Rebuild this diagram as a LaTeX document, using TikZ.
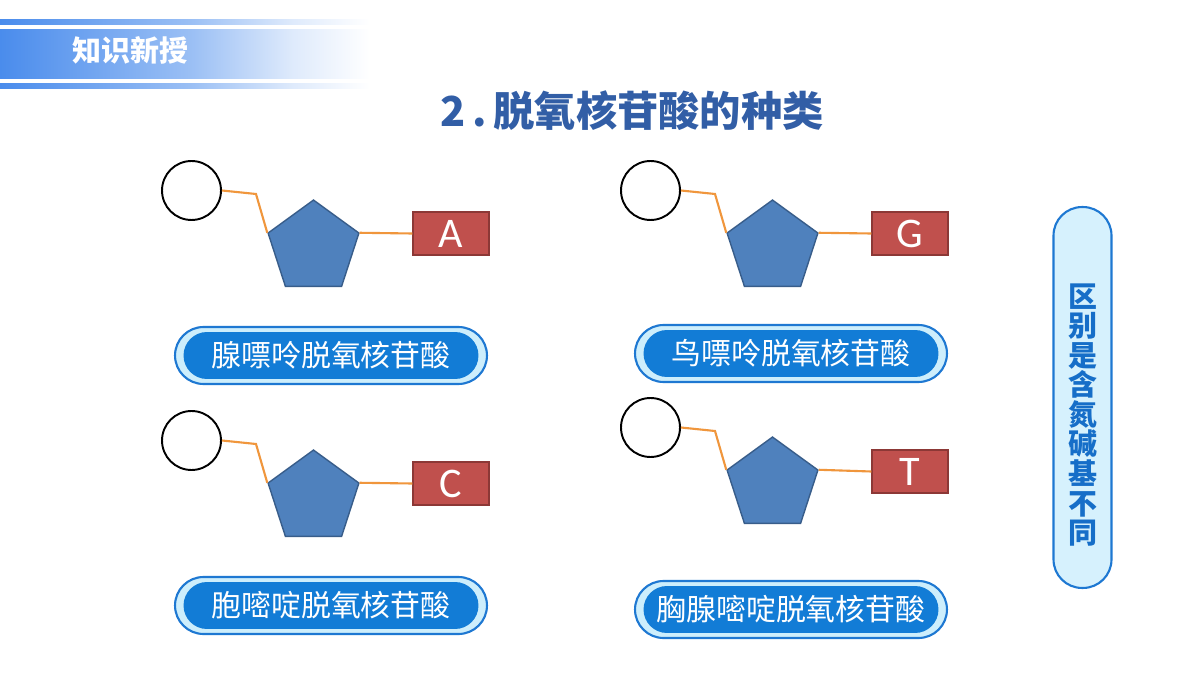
\documentclass[tikz,border=0pt]{standalone}
\usepackage{fontspec}
\setmainfont{Carlito}
\newfontfamily\cjk{Noto Sans CJK SC}
\usetikzlibrary{shapes.geometric}
\definecolor{bandblue}{RGB}{74,140,236}
\definecolor{titleblue}{RGB}{50,94,166}
\definecolor{sugar}{RGB}{79,129,189}
\definecolor{sugaredge}{RGB}{56,93,138}
\definecolor{base}{RGB}{192,80,77}
\definecolor{baseedge}{RGB}{140,56,54}
\definecolor{bond}{RGB}{240,150,60}
\definecolor{pillrim}{RGB}{30,120,210}
\definecolor{pillpale}{RGB}{205,238,252}
\definecolor{pillfill}{RGB}{18,124,214}
\definecolor{notefill}{RGB}{214,241,253}
\definecolor{notetext}{RGB}{22,110,200}
\pgfdeclarehorizontalshading{bandfade}{100bp}{color(0bp)=(bandblue); color(25bp)=(bandblue); color(50bp)=(bandblue!55!white); color(63bp)=(bandblue!18!white); color(73bp)=(white); color(100bp)=(white)}
\tikzset{
  phos/.style={circle, draw=black, line width=1.1pt, fill=white, minimum size=1.18cm, inner sep=0pt},
  sugarnode/.style={regular polygon, regular polygon sides=5, draw=sugaredge, fill=sugar, line width=0.8pt, minimum size=1.91cm, inner sep=0pt},
  basebox/.style={draw=baseedge, fill=base, line width=0.8pt, minimum width=1.52cm, minimum height=0.86cm, inner sep=0pt, text=white, font=\fontsize{24}{24}\selectfont},
  bondline/.style={draw=bond, line width=1.2pt},
  pillout/.style={draw=pillrim, fill=pillpale, line width=1.2pt, rounded corners=0.57cm, minimum width=6.24cm, minimum height=1.14cm},
  pillin/.style={fill=pillfill, rounded corners=0.47cm, minimum width=5.9cm, minimum height=0.94cm, inner sep=0pt, text=white, font=\cjk\fontsize{17}{17}\selectfont},
}
\begin{document}
\begin{tikzpicture}[x=0.02cm, y=-0.02cm]
  \useasboundingbox (0,0) rectangle (1200,675);
  \fill[white] (0,0) rectangle (1200,675);

  % header band
  \shade[shading=bandfade] (0,20) rectangle (385,25);
  \shade[shading=bandfade] (0,30) rectangle (385,79);
  \shade[shading=bandfade] (0,84) rectangle (385,89);
  \node[text=white, font=\cjk\bfseries\fontsize{16.5}{16.5}\selectfont, anchor=west, inner sep=0pt] (head) at (72,50) {知识新授};

  % title
  \node[text=titleblue, font=\cjk\bfseries\fontsize{23.5}{23.5}\selectfont, inner sep=0pt] (title) at (632,111) {2\,.\,脱氧核苷酸的种类};

  % adenine
  \node[phos] (p1) at (191.5,190.5) {};
  \node[sugarnode] (s1) at (313.5,247.8) {};
  \node[basebox] (b1) at (451,233.5) {A};
  \coordinate (k1) at (256,194);
  \draw[bondline] (p1.east) -- (k1) -- (s1.corner 2);
  \draw[bondline] (s1.corner 5) -- (b1.west);

  % guanine
  \node[phos] (p2) at (650.5,190.5) {};
  \node[sugarnode] (s2) at (772.5,247.8) {};
  \node[basebox] (b2) at (910,233.5) {G};
  \coordinate (k2) at (715,194);
  \draw[bondline] (p2.east) -- (k2) -- (s2.corner 2);
  \draw[bondline] (s2.corner 5) -- (b2.west);

  % cytosine
  \node[phos] (p3) at (191.5,440.5) {};
  \node[sugarnode] (s3) at (313.5,497.8) {};
  \node[basebox] (b3) at (451,483.5) {C};
  \coordinate (k3) at (256,444);
  \draw[bondline] (p3.east) -- (k3) -- (s3.corner 2);
  \draw[bondline] (s3.corner 5) -- (b3.west);

  % thymine
  \node[phos] (p4) at (650.5,427.5) {};
  \node[sugarnode] (s4) at (772.5,484.8) {};
  \node[basebox] (b4) at (910,471.5) {T};
  \coordinate (k4) at (715,431);
  \draw[bondline] (p4.east) -- (k4) -- (s4.corner 2);
  \draw[bondline] (s4.corner 5) -- (b4.west);

  % names
  \node[pillout] (r1) at (331,355.5) {};
  \node[pillin] (n1) at (r1) {腺嘌呤脱氧核苷酸};
  \node[pillout] (r2) at (791,353.5) {};
  \node[pillin] (n2) at (r2) {鸟嘌呤脱氧核苷酸};
  \node[pillout] (r3) at (331,605.5) {};
  \node[pillin] (n3) at (r3) {胞嘧啶脱氧核苷酸};
  \node[pillout] (r4) at (791,609.5) {};
  \node[pillin] (n4) at (r4) {胸腺嘧啶脱氧核苷酸};

  % note
  \node[draw=pillrim, fill=notefill, line width=1.2pt, rounded corners=0.57cm, minimum width=1.16cm, minimum height=7.62cm] (note) at (1082.5,397.5) {};
  \node[text=notetext, font=\cjk\bfseries\fontsize{16.5}{16.8}\selectfont, align=center, inner sep=0pt] (notetxt) at (1083,415) {区\\别\\是\\含\\氮\\碱\\基\\不\\同};
\end{tikzpicture}
\end{document}
